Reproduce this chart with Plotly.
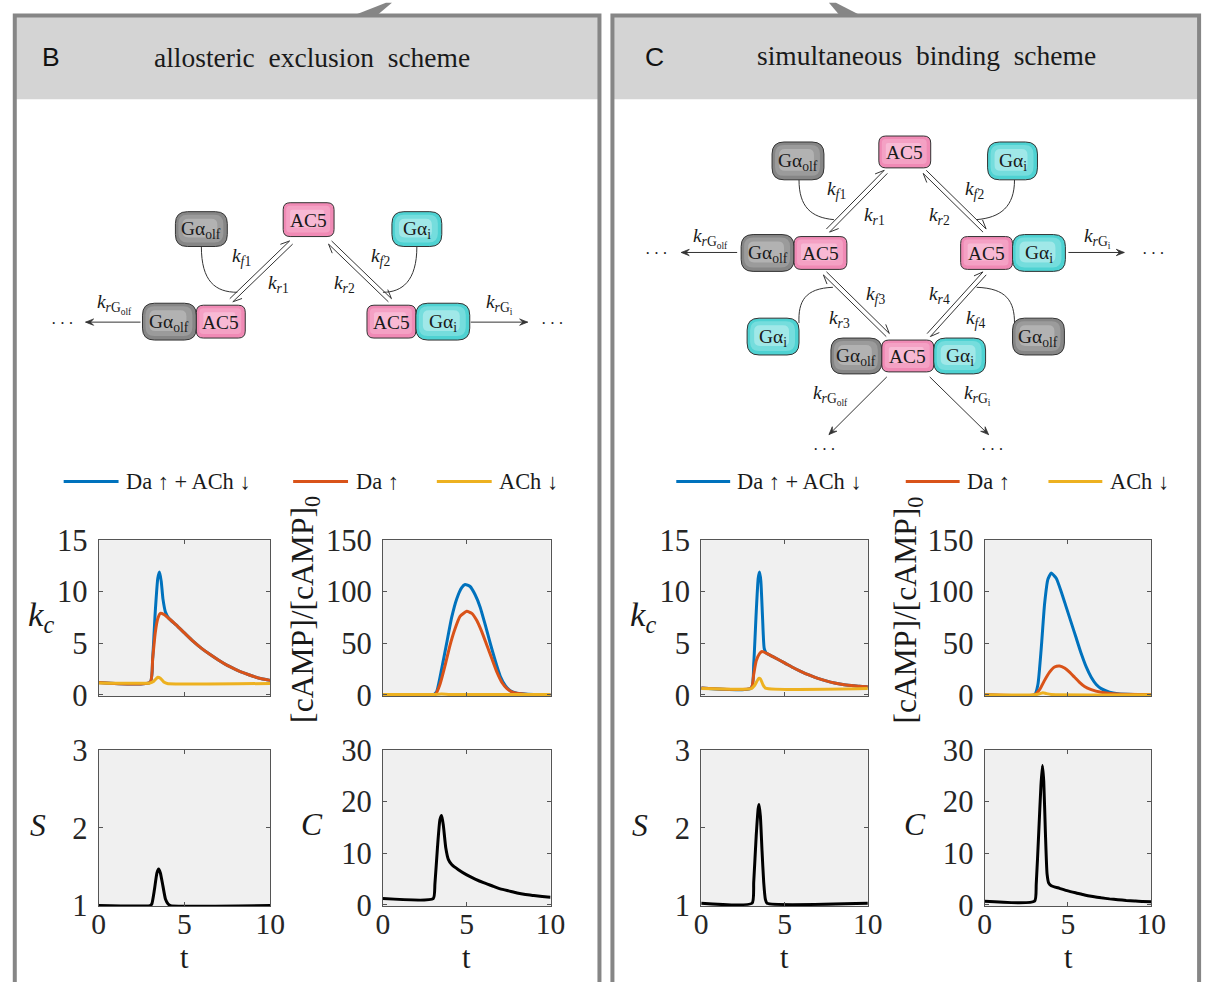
import plotly.graph_objects as go

W, H = 1207, 982
SERIF = "Liberation Serif, DejaVu Serif, serif"
SANS = "Liberation Sans"

# measured page -> picture mapping of the harness (picture = O + S * page)
SX, OX = 0.984, 6.2
SY, OY = 0.971, 13.4
FS = 1.02  # font compensation

def fx(px):
    return ((px - OX) / SX) / W

def fy(py):
    return 1 - ((py - OY) / SY) / H

def fs(v):
    return round(v * FS, 1)

# ---------------- data ----------------
# Panel B : allosteric exclusion scheme
B_kc_blue_t = [0, 3.0, 3.15, 3.3, 3.45, 3.55, 3.65, 3.75, 3.9, 4.1, 4.5, 5, 5.5, 6, 6.5, 7, 7.5, 8, 8.5, 9, 9.5, 10]
B_kc_blue_v = [1.2, 1.2, 3.5, 8.0, 11.3, 11.9, 11.0, 9.3, 8.0, 7.4, 6.8, 6.0, 5.2, 4.5, 3.9, 3.35, 2.85, 2.45, 2.1, 1.8, 1.55, 1.4]
B_kc_red_t = [0, 3.0, 3.15, 3.3, 3.45, 3.6, 3.8, 4.1, 4.5, 5, 5.5, 6, 6.5, 7, 7.5, 8, 8.5, 9, 9.5, 10]
B_kc_red_v = [1.2, 1.2, 3.5, 6.0, 7.4, 7.9, 7.8, 7.4, 6.8, 6.0, 5.2, 4.5, 3.9, 3.35, 2.85, 2.45, 2.1, 1.8, 1.55, 1.4]
B_kc_yel_t = [0, 3.0, 3.2, 3.45, 3.6, 3.8, 4.0, 10]
B_kc_yel_v = [1.15, 1.15, 1.3, 1.7, 1.6, 1.25, 1.1, 1.1]

B_camp_blue_t = [0, 3.0, 3.2, 3.5, 3.8, 4.1, 4.4, 4.7, 4.9, 5.2, 5.5, 5.8, 6.1, 6.4, 6.7, 7.0, 7.3, 7.6, 8.0, 9.0, 10]
B_camp_blue_v = [0, 0, 3, 25, 50, 75, 93, 104, 107, 105, 97, 85, 68, 50, 33, 18, 9, 4, 1.5, 0.3, 0]
B_camp_red_t = [0, 3.1, 3.4, 3.7, 4.0, 4.3, 4.6, 5.0, 5.3, 5.6, 5.9, 6.2, 6.5, 6.8, 7.1, 7.4, 7.8, 8.5, 10]
B_camp_red_v = [0, 0, 10, 28, 48, 64, 76, 81, 79, 72, 61, 48, 35, 22, 12, 6, 2, 0.5, 0]
B_camp_yel_t = [0, 3.0, 3.5, 4.0, 10]
B_camp_yel_v = [0.3, 0.3, 0.8, 0.4, 0.3]

B_S_t = [0, 3.0, 3.1, 3.25, 3.4, 3.5, 3.6, 3.75, 3.9, 4.05, 4.2, 10]
B_S_v = [1.0, 1.0, 1.02, 1.2, 1.42, 1.47, 1.42, 1.25, 1.08, 1.02, 1.0, 1.0]
B_C_t = [0, 3.0, 3.1, 3.25, 3.4, 3.5, 3.6, 3.75, 3.9, 4.1, 4.5, 5, 5.5, 6, 6.5, 7, 7.5, 8, 8.5, 9, 9.5, 10]
B_C_v = [1.2, 1.2, 4, 11, 16.5, 17.3, 15.5, 11, 8.8, 7.8, 6.8, 5.8, 5.0, 4.3, 3.7, 3.1, 2.7, 2.3, 2.0, 1.8, 1.6, 1.45]

# Panel C : simultaneous binding scheme
C_kc_blue_t = [0, 3.0, 3.15, 3.3, 3.42, 3.5, 3.58, 3.68, 3.78, 3.9, 4.3, 5, 5.5, 6, 6.5, 7, 7.5, 8, 8.5, 9, 9.5, 10]
C_kc_blue_v = [0.65, 0.65, 3.0, 8.0, 11.3, 11.9, 11.0, 7.5, 4.5, 4.05, 3.7, 3.1, 2.65, 2.25, 1.9, 1.6, 1.35, 1.15, 1.0, 0.9, 0.82, 0.78]
C_kc_red_t = [0, 3.0, 3.15, 3.3, 3.5, 3.65, 3.9, 4.3, 5, 5.5, 6, 6.5, 7, 7.5, 8, 8.5, 9, 9.5, 10]
C_kc_red_v = [0.65, 0.65, 2.0, 3.3, 4.0, 4.2, 4.05, 3.7, 3.1, 2.65, 2.25, 1.9, 1.6, 1.35, 1.15, 1.0, 0.9, 0.82, 0.78]
C_kc_yel_t = [0, 3.0, 3.2, 3.45, 3.55, 3.7, 3.85, 10]
C_kc_yel_v = [0.6, 0.6, 0.9, 1.6, 1.55, 1.0, 0.65, 0.6]

C_camp_blue_t = [0, 3.0, 3.2, 3.4, 3.6, 3.8, 4.0, 4.3, 4.6, 4.9, 5.2, 5.5, 5.8, 6.1, 6.4, 6.7, 7.0, 7.5, 8, 9, 10]
C_camp_blue_v = [0, 0, 10, 45, 88, 112, 118, 113, 100, 85, 70, 55, 40, 27, 17, 10, 6, 2.5, 1, 0.3, 0]
C_camp_red_t = [0, 3.0, 3.3, 3.6, 3.9, 4.2, 4.5, 4.8, 5.1, 5.4, 5.7, 6.0, 6.4, 7.0, 8.0, 10]
C_camp_red_v = [0, 0, 5, 14, 22, 27, 28, 26, 22, 17, 12, 8, 5, 2.5, 0.8, 0.2]
C_camp_yel_t = [0, 3.0, 3.3, 3.5, 3.7, 4.0, 10]
C_camp_yel_v = [0, 0, 1.0, 2.0, 1.2, 0.3, 0]

C_S_t = [0, 3.05, 3.15, 3.3, 3.42, 3.47, 3.55, 3.65, 3.75, 3.85, 3.95, 10]
C_S_v = [1.03, 1.03, 1.3, 1.9, 2.25, 2.3, 2.15, 1.7, 1.3, 1.08, 1.03, 1.03]
C_C_t = [0, 3.0, 3.1, 3.25, 3.38, 3.47, 3.55, 3.65, 3.75, 3.85, 4.0, 4.5, 5, 5.5, 6, 6.5, 7, 7.5, 8, 8.5, 9, 9.5, 10]
C_C_v = [0.7, 0.7, 4, 14, 23, 27, 24, 14, 6, 4.2, 3.7, 3.2, 2.7, 2.3, 1.9, 1.6, 1.35, 1.15, 1.0, 0.85, 0.75, 0.65, 0.6]

legend_labels = ["Da \u2191 + ACh \u2193", "Da \u2191", "ACh \u2193"]
BLUE, RED, YEL = "#0072BD", "#D95319", "#EDB120"

# ---------------- subplots ----------------
axes_spec = {
    1: ((98, 270, 540, 697), [-0.15, 15], [0, 5, 10, 15], False),
    2: ((383, 551, 540, 697), [-1.5, 150], [0, 50, 100, 150], False),
    3: ((98, 270, 751, 908), [0.99, 3], [1, 2, 3], True),
    4: ((383, 551, 751, 908), [-0.3, 30], [0, 10, 20, 30], True),
    5: ((702, 869, 540, 697), [-0.15, 15], [0, 5, 10, 15], False),
    6: ((986, 1153, 540, 697), [-1.5, 150], [0, 50, 100, 150], False),
    7: ((702, 869, 751, 908), [0.99, 3], [1, 2, 3], True),
    8: ((986, 1153, 751, 908), [-0.3, 30], [0, 10, 20, 30], True),
}

traces = {
    1: [(B_kc_blue_t, B_kc_blue_v, BLUE), (B_kc_red_t, B_kc_red_v, RED), (B_kc_yel_t, B_kc_yel_v, YEL)],
    2: [(B_camp_blue_t, B_camp_blue_v, BLUE), (B_camp_red_t, B_camp_red_v, RED), (B_camp_yel_t, B_camp_yel_v, YEL)],
    3: [(B_S_t, B_S_v, "#000000")],
    4: [(B_C_t, B_C_v, "#000000")],
    5: [(C_kc_blue_t, C_kc_blue_v, BLUE), (C_kc_red_t, C_kc_red_v, RED), (C_kc_yel_t, C_kc_yel_v, YEL)],
    6: [(C_camp_blue_t, C_camp_blue_v, BLUE), (C_camp_red_t, C_camp_red_v, RED), (C_camp_yel_t, C_camp_yel_v, YEL)],
    7: [(C_S_t, C_S_v, "#000000")],
    8: [(C_C_t, C_C_v, "#000000")],
}

fig = go.Figure()
layout = dict(
    width=W, height=H, margin=dict(l=0, r=0, t=0, b=0, pad=0), autosize=False,
    paper_bgcolor="white", plot_bgcolor="#f0f0f0", showlegend=False,
)

tickfont = dict(family=SERIF, size=fs(30), color="#262626")
xtickfont = dict(family=SERIF, size=fs(29), color="#262626")
for i, (box, yr, yt, showx) in axes_spec.items():
    x0, x1, y0, y1 = box
    sx = "" if i == 1 else str(i)
    layout["xaxis" + sx] = dict(
        domain=[fx(x0), fx(x1)], range=[0, 10], tickvals=[0, 5, 10],
        ticks="inside", ticklen=4, tickcolor="#555", showline=True, linecolor="#555",
        linewidth=1, mirror="ticks", showgrid=False, zeroline=False,
        showticklabels=showx, tickfont=xtickfont, anchor="y" + sx, fixedrange=True,
        ticklabelstandoff=-9,
    )
    layout["yaxis" + sx] = dict(
        domain=[fy(y1), fy(y0)], range=yr, tickvals=yt,
        ticks="inside", ticklen=4, tickcolor="#555", showline=True, linecolor="#555",
        linewidth=1, mirror="ticks", showgrid=False, zeroline=False,
        tickfont=tickfont, anchor="x" + sx, fixedrange=True, ticklabelstandoff=4,
    )
    for (t, v, c) in traces[i]:
        fig.add_trace(go.Scatter(
            x=t, y=v, mode="lines", xaxis="x" + sx, yaxis="y" + sx,
            line=dict(color=c, width=3, shape="spline", smoothing=0.5),
            hoverinfo="skip", showlegend=False,
        ))

shapes = []
annotations = []

def P(x, y):
    return f"{fx(x):.5f},{fy(y):.5f}"

def rrect_path(x0, y0, x1, y1, r):
    return (f"M{P(x0 + r, y0)} L{P(x1 - r, y0)} Q{P(x1, y0)} {P(x1, y0 + r)} "
            f"L{P(x1, y1 - r)} Q{P(x1, y1)} {P(x1 - r, y1)} L{P(x0 + r, y1)} "
            f"Q{P(x0, y1)} {P(x0, y1 - r)} L{P(x0, y0 + r)} Q{P(x0, y0)} {P(x0 + r, y0)} Z")

def rect(x0, y0, x1, y1, fill=None, line=None, lw=0):
    shapes.append(dict(type="rect", xref="paper", yref="paper",
                       x0=fx(x0), x1=fx(x1), y0=fy(y1), y1=fy(y0),
                       fillcolor=fill if fill else "rgba(0,0,0,0)",
                       line=dict(color=line if line else "rgba(0,0,0,0)", width=lw)))

def text(x, y, s, size=17, family=SERIF, color="#1a1a1a", xanchor="center", angle=0):
    annotations.append(dict(x=fx(x), y=fy(y), xref="paper", yref="paper", text=s,
                            showarrow=False, xanchor=xanchor, yanchor="middle",
                            textangle=angle,
                            font=dict(family=family, size=fs(size), color=color)))

COLS = {
    "gray": ("#868686", "#a0a0a0", "#bcbcbc"),
    "pink": ("#f08ab5", "#f5a6c8", "#f9c3db"),
    "cyan": ("#4ed2d2", "#7fe0e0", "#b2ecec"),
}
LABELS = {"gray": "G\u03b1<sub>olf</sub>", "pink": "AC5", "cyan": "G\u03b1<sub>i</sub>"}

def box(x0, y0, x1, y1, kind):
    r = 7 if kind == "pink" else 12
    c1, c2, c3 = COLS[kind]
    shapes.append(dict(type="path", xref="paper", yref="paper", path=rrect_path(x0, y0, x1, y1, r),
                       fillcolor=c1, line=dict(color="#333333", width=1)))
    shapes.append(dict(type="path", xref="paper", yref="paper",
                       path=rrect_path(x0 + 3, y0 + 3, x1 - 4, y1 - 4, max(r - 3, 3)),
                       fillcolor=c2, line=dict(width=0), opacity=0.8))
    shapes.append(dict(type="path", xref="paper", yref="paper",
                       path=rrect_path(x0 + 7, y0 + 7, x1 - 10, y1 - 9, max(r - 6, 2)),
                       fillcolor=c3, line=dict(width=0), opacity=0.7))
    text((x0 + x1) / 2, (y0 + y1) / 2 + 1, LABELS[kind], size=19)

LINEC = "#333333"

def arrow(tx, ty, hx, hy, barb="both", L=8.0, w=3.2):
    dx, dy = hx - tx, hy - ty
    n = (dx * dx + dy * dy) ** 0.5
    ux, uy = dx / n, dy / n
    nx, ny = -uy, ux
    bx, by = hx - ux * L, hy - uy * L
    shapes.append(dict(type="path", xref="paper", yref="paper",
                       path=f"M{P(tx, ty)} L{P(hx, hy)}", line=dict(color=LINEC, width=1)))
    if barb == "both":
        shapes.append(dict(type="path", xref="paper", yref="paper",
                           path=f"M{P(hx, hy)} L{P(bx + nx * w, by + ny * w)} "
                                f"L{P(hx - ux * L * 0.6, hy - uy * L * 0.6)} L{P(bx - nx * w, by - ny * w)} Z",
                           fillcolor=LINEC, line=dict(color=LINEC, width=0.8)))
    else:
        sgn = 1 if barb == "plus" else -1
        shapes.append(dict(type="path", xref="paper", yref="paper",
                           path=f"M{P(hx, hy)} L{P(bx + sgn * nx * w, by + sgn * ny * w)}",
                           line=dict(color=LINEC, width=1)))

def double_arrow(x1, y1, x2, y2):
    dx, dy = x2 - x1, y2 - y1
    n = (dx * dx + dy * dy) ** 0.5
    nx, ny = -dy / n * 2.2, dx / n * 2.2
    arrow(x2 + nx, y2 + ny, x1 + nx, y1 + ny, barb="minus", L=9, w=4)
    arrow(x1 - nx, y1 - ny, x2 - nx, y2 - ny, barb="minus", L=9, w=4)

def curve(x0, y0, cx1, cy1, cx2, cy2, x1, y1):
    shapes.append(dict(type="path", xref="paper", yref="paper",
                       path=f"M{P(x0, y0)} C{P(cx1, cy1)} {P(cx2, cy2)} {P(x1, y1)}",
                       line=dict(color=LINEC, width=1)))

def k(sub):
    return f"<i>k</i><sub>{sub}</sub>"

KS = 19
DOTS = "\u00b7\u2009\u00b7\u2009\u00b7"

# ---------------- panel frames ----------------
rect(15, 14, 599, 97, fill="#d4d4d4")
rect(613, 14, 1200, 97, fill="#d4d4d4")
rect(14, 13, 600, 1000, line="#868686", lw=4)
rect(613, 13, 1201, 1000, line="#868686", lw=4)
shapes.append(dict(type="path", xref="paper", yref="paper",
                   path=f"M{P(356, 12)} L{P(386, 0)} L{P(392, 0)} L{P(378, 12)} Z",
                   fillcolor="#868686", line=dict(width=0)))
shapes.append(dict(type="path", xref="paper", yref="paper",
                   path=f"M{P(830, 0)} L{P(837, 0)} L{P(860, 12)} L{P(840, 12)} Z",
                   fillcolor="#868686", line=dict(width=0)))

text(50, 55, "B", size=26, family=SANS, color="#111")
text(312, 55, "allosteric  exclusion  scheme", size=27)
text(655, 55, "C", size=26, family=SANS, color="#111")
text(928, 53, "simultaneous  binding  scheme", size=27)

# ---------------- diagram B ----------------
double_arrow(291, 241, 231, 299)
double_arrow(330, 241, 390, 299)
curve(201, 245, 201, 280, 215, 291, 237, 291)
curve(417, 245, 417, 280, 402, 291, 383, 291)
box(283, 201, 334, 235, "pink")
box(175, 210, 227, 245, "gray")
box(392, 210, 442, 245, "cyan")
box(142, 302, 196, 339, "gray")
box(196, 304, 245, 337, "pink")
box(367, 304, 416, 337, "pink")
box(416, 302, 470, 339, "cyan")
text(241, 256, k("<i>f</i>1"), size=KS)
text(278, 283, k("<i>r</i>1"), size=KS)
text(344, 283, k("<i>r</i>2"), size=KS)
text(381, 256, k("<i>f</i>2"), size=KS)
arrow(140, 321, 85, 321)
arrow(471, 321, 528, 321)
text(114, 303, "<i>k</i><sub><i>r</i>G<sub>olf</sub></sub>", size=KS)
text(500, 303, "<i>k</i><sub><i>r</i>G<sub>i</sub></sub>", size=KS)
text(62, 322, DOTS, size=16)
text(553, 322, DOTS, size=16)

# ---------------- diagram C ----------------
double_arrow(887, 170, 829, 229)
double_arrow(926, 170, 986, 229)
double_arrow(826, 272, 889, 334)
double_arrow(986, 272, 930, 334)
curve(800, 178, 800, 205, 812, 216, 835, 218)
curve(1016, 178, 1016, 205, 1002, 216, 978, 218)
curve(800, 322, 799, 300, 806, 287, 834, 286)
curve(1016, 322, 1016, 300, 1008, 287, 978, 286)

box(880, 134, 932, 166, "pink")
box(773, 140, 825, 178, "gray")
box(989, 140, 1039, 178, "cyan")
box(742, 233, 795, 270, "gray")
box(795, 235, 848, 268, "pink")
box(962, 235, 1014, 268, "pink")
box(1014, 233, 1067, 270, "cyan")
box(832, 337, 883, 373, "gray")
box(883, 339, 935, 371, "pink")
box(935, 337, 987, 373, "cyan")
box(748, 317, 800, 354, "cyan")
box(1014, 317, 1066, 354, "gray")

text(838, 188, k("<i>f</i>1"), size=KS)
text(876, 214, k("<i>r</i>1"), size=KS)
text(941, 214, k("<i>r</i>2"), size=KS)
text(976, 188, k("<i>f</i>2"), size=KS)
text(877, 294, k("<i>f</i>3"), size=KS)
text(841, 318, k("<i>r</i>3"), size=KS)
text(941, 294, k("<i>r</i>4"), size=KS)
text(977, 318, k("<i>f</i>4"), size=KS)

arrow(738, 251, 682, 251)
arrow(1070, 251, 1126, 251)
text(711, 236, "<i>k</i><sub><i>r</i>G<sub>olf</sub></sub>", size=KS)
text(1099, 236, "<i>k</i><sub><i>r</i>G<sub>i</sub></sub>", size=KS)
text(657, 252, DOTS, size=16)
text(1155, 252, DOTS, size=16)

arrow(888, 376, 830, 434)
arrow(931, 376, 990, 434)
text(832, 394, "<i>k</i><sub><i>r</i>G<sub>olf</sub></sub>", size=KS)
text(979, 394, "<i>k</i><sub><i>r</i>G<sub>i</sub></sub>", size=KS)
text(826, 449, DOTS, size=16)
text(994, 449, DOTS, size=16)

# ---------------- legends ----------------
LEGFONT = "Liberation Serif, DejaVu Serif"

def legend(items, y=481):
    for (lx0, lx1, tx, col, lab) in items:
        shapes.append(dict(type="line", xref="paper", yref="paper",
                           x0=fx(lx0), x1=fx(lx1), y0=fy(y), y1=fy(y),
                           line=dict(color=col, width=3)))
        text(tx, y, lab, size=22, xanchor="left", family=LEGFONT)

legend([(63, 118, 123, BLUE, legend_labels[0]),
        (293, 348, 354, RED, legend_labels[1]),
        (437, 492, 497, YEL, legend_labels[2])])
legend([(677, 731, 736, BLUE, legend_labels[0]),
        (907, 961, 966, RED, legend_labels[1]),
        (1050, 1104, 1110, YEL, legend_labels[2])])

# ---------------- axis labels ----------------
for off in (0, 604):
    text(40 + off, 617, "<i>k<sub>c</sub></i>", size=34)
    text(305 + off, 610, "[cAMP]/[cAMP]<sub>0</sub>", size=31, angle=-90)
    text(37 + off, 827, "<i>S</i>", size=31)
    text(312 + off, 826, "<i>C</i>", size=31)
for tx in (184, 467, 785, 1070):
    text(tx, 960, "t", size=30)

layout["shapes"] = shapes
layout["annotations"] = annotations
fig.update_layout(**layout)
fig.write_html("out.html")
